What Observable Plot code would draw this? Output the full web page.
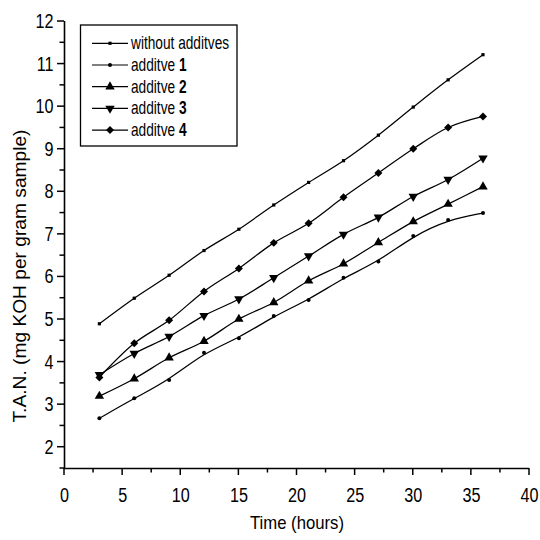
<!DOCTYPE html>
<html><head><meta charset="utf-8">
<script src="https://cdn.jsdelivr.net/npm/d3@7"></script>
<script src="https://cdn.jsdelivr.net/npm/@observablehq/plot@0.6"></script>
<style>body{margin:0;background:#fff} #chart{width:540px;height:540px}</style>
</head><body><div id="chart"></div>
<script>
// ---- data ----
const hours = [3, 6, 9, 12, 15, 18, 21, 24, 27, 30, 33, 36];
const withoutAdditives = [4.90, 5.50, 6.04, 6.62, 7.12, 7.69, 8.22, 8.73, 9.33, 9.99, 10.63, 11.22];
const additive1 = [2.68, 3.15, 3.58, 4.22, 4.56, 5.08, 5.46, 5.98, 6.36, 6.96, 7.34, 7.50];
const additive2 = [3.20, 3.61, 4.10, 4.49, 5.01, 5.40, 5.91, 6.31, 6.81, 7.30, 7.71, 8.12];
const additive3 = [3.70, 4.20, 4.60, 5.09, 5.48, 5.98, 6.49, 7.00, 7.40, 7.89, 8.29, 8.79];
const additive4 = [3.64, 4.44, 4.98, 5.66, 6.20, 6.80, 7.26, 7.87, 8.44, 9.01, 9.51, 9.77];
const seriesNames = ["without additves", "additve 1", "additve 2", "additve 3", "additve 4"];
const legendWords = ["without additves", "additve ", "additve ", "additve ", "additve "];
const legendNumbers = ["", "1", "2", "3", "4"];
const xTicks = [0, 5, 10, 15, 20, 25, 30, 35, 40];
const xMinorTicks = [2.5, 7.5, 12.5, 17.5, 22.5, 27.5, 32.5, 37.5];
const yTicks = [2, 3, 4, 5, 6, 7, 8, 9, 10, 11, 12];
const yMinorTicks = [1.5, 2.5, 3.5, 4.5, 5.5, 6.5, 7.5, 8.5, 9.5, 10.5, 11.5];
const xLabel = "Time (hours)";
const yLabel = "T.A.N. (mg KOH per gram sample)";

const seriesValues = [withoutAdditives, additive1, additive2, additive3, additive4];
const styles = [
  {symbol: "square", r: 1.8, rotate: 0, curve: "catmull-rom"},
  {symbol: "circle", r: 2.0, rotate: 0, curve: "basis"},
  {symbol: "triangle", r: 3.5, rotate: 0, curve: "catmull-rom"},
  {symbol: "triangle", r: 3.5, rotate: 180, curve: "catmull-rom"},
  {symbol: "diamond2", r: 3.6, rotate: 0, curve: "catmull-rom"}
];
const tables = seriesValues.map((vals, i) => hours.map((h, j) => ({series: seriesNames[i], hours: h, tan: vals[j]})));

const FONT = "'Liberation Sans', Arial, sans-serif";
const X0 = 0, Y0 = 1.5;

const marks = [
  Plot.ruleX([X0], {y1: 1.5, y2: 12, stroke: "black", strokeWidth: 1.6}),
  Plot.ruleY([Y0], {x1: 0, x2: 40, stroke: "black", strokeWidth: 1.6}),
  Plot.axisX({ticks: xTicks, tickSize: 0, tickPadding: 19, label: null, fontSize: 18}),
  Plot.axisY({ticks: yTicks, tickSize: 0, tickPadding: 11, label: null, fontSize: 18})
];
tables.forEach((t, i) => {
  const s = styles[i];
  marks.push(Plot.line(t, {x: "hours", y: "tan", curve: s.curve, stroke: "black", strokeWidth: 1.25}));
  marks.push(Plot.dot(t, {x: "hours", y: "tan", symbol: s.symbol, r: s.r, rotate: s.rotate, fill: "black", stroke: "none"}));
});

const svgEl = Plot.plot({
  width: 540, height: 540,
  marginLeft: 64, marginRight: 11, marginTop: 21, marginBottom: 72,
  x: {domain: [0, 40]},
  y: {domain: [1.5, 12]},
  style: {fontFamily: FONT, fontSize: "18px", color: "black", background: "white", overflow: "visible"},
  marks
});
document.getElementById("chart").appendChild(svgEl);

const svg = d3.select(svgEl);
// tick marks placed with the plot's own scales
const toFn = (sc) => (sc && typeof sc.apply === "function") ? (v) => sc.apply(v) : d3.scaleLinear(sc.domain, sc.range);
const sx = toFn(svgEl.scale("x"));
const sy = toFn(svgEl.scale("y"));
const tg = svg.append("g");
const px0 = sx(X0), py0 = sy(Y0);
const tick = (x1, y1, x2, y2) => tg.append("line").attr("x1", x1).attr("y1", y1).attr("x2", x2).attr("y2", y2)
  .attr("stroke", "black").attr("stroke-width", 1.5);
xTicks.forEach(v => tick(sx(v), py0, sx(v), py0 + 7));
xMinorTicks.forEach(v => tick(sx(v), py0, sx(v), py0 + 4.5));
yTicks.forEach(v => tick(px0, sy(v), px0 - 7, sy(v)));
yMinorTicks.forEach(v => tick(px0, sy(v), px0 - 4.5, sy(v)));

// slightly tall, narrow tick numerals as in the reference
svg.selectAll("g[aria-label='x-axis tick label'] text, g[aria-label='y-axis tick label'] text").each(function() {
  const el = d3.select(this);
  const tr = el.attr("transform") || "";
  el.attr("transform", tr + " scale(0.9,1.12)");
});
// axis titles
svg.append("text").attr("x", 297).attr("y", 529).attr("text-anchor", "middle")
  .attr("font-family", FONT).attr("font-size", 19).attr("fill", "black")
  .attr("textLength", 94).attr("lengthAdjust", "spacingAndGlyphs").text(xLabel);
svg.append("text").attr("transform", "translate(26,276) rotate(-90)").attr("text-anchor", "middle")
  .attr("font-family", FONT).attr("font-size", 18).attr("fill", "black")
  .attr("textLength", 293).attr("lengthAdjust", "spacingAndGlyphs").text(yLabel);

// legend
const lg = svg.append("g");
lg.append("rect").attr("x", 80.5).attr("y", 25).attr("width", 156.5).attr("height", 121)
  .attr("fill", "white").attr("stroke", "black").attr("stroke-width", 1.3);
const symbolTypes = {square: d3.symbolSquare, circle: d3.symbolCircle, triangle: d3.symbolTriangle, diamond2: d3.symbolDiamond2};
seriesNames.forEach((name, i) => {
  const y = 43.3 + i * 21.7;
  const s = styles[i];
  lg.append("line").attr("x1", 92).attr("x2", 128).attr("y1", y).attr("y2", y).attr("stroke", "black").attr("stroke-width", 1.2);
  lg.append("path").attr("d", d3.symbol(symbolTypes[s.symbol], Math.PI * s.r * s.r)())
    .attr("transform", `translate(110,${y}) rotate(${s.rotate})`).attr("fill", "black");
  const t = lg.append("text").attr("x", 131).attr("y", y + 6).attr("text-anchor", "start")
    .attr("font-family", FONT).attr("font-size", 16.5).attr("fill", "black")
    .attr("transform", `translate(131,${y + 6}) scale(0.83,1.08) translate(-131,${-(y + 6)})`);
  t.append("tspan").text(legendWords[i]);
  if (legendNumbers[i]) t.append("tspan").attr("font-weight", "bold").text(legendNumbers[i]);
});
</script>
</body></html>
